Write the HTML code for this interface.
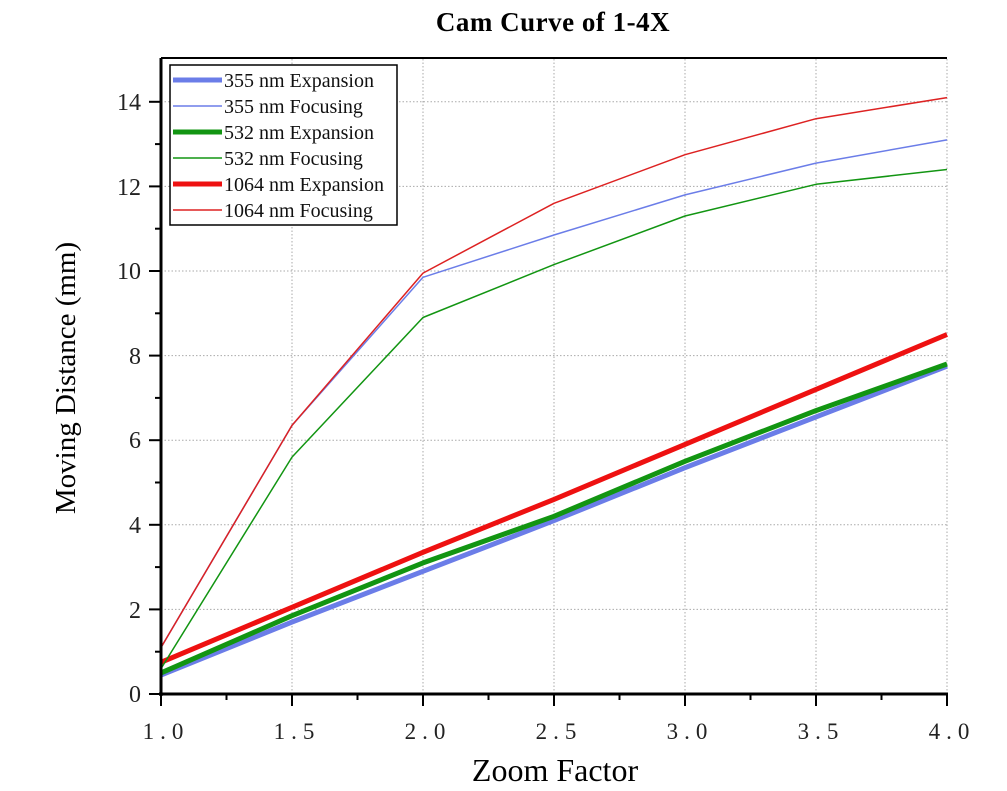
<!DOCTYPE html>
<html><head><style>body{margin:0;background:#fff}</style></head><body>
<svg width="1007" height="786" xmlns="http://www.w3.org/2000/svg" font-family="Liberation Serif, serif">
<rect width="1007" height="786" fill="#fff"/>
<text x="553" y="31" font-size="27" font-weight="bold" text-anchor="middle" letter-spacing="0.5">Cam Curve of  1-4X</text>
<g stroke="#aaa" stroke-dasharray="1.5,2" stroke-width="1">
<line x1="292" y1="59" x2="292" y2="694"/><line x1="423" y1="59" x2="423" y2="694"/><line x1="554" y1="59" x2="554" y2="694"/><line x1="685" y1="59" x2="685" y2="694"/><line x1="816" y1="59" x2="816" y2="694"/><line x1="947" y1="59" x2="947" y2="694"/>
<line x1="161" y1="609.4" x2="947" y2="609.4"/><line x1="161" y1="524.8" x2="947" y2="524.8"/><line x1="161" y1="440.2" x2="947" y2="440.2"/><line x1="161" y1="355.6" x2="947" y2="355.6"/><line x1="161" y1="271" x2="947" y2="271"/><line x1="161" y1="186.4" x2="947" y2="186.4"/><line x1="161" y1="101.8" x2="947" y2="101.8"/>
</g>
<g fill="none" stroke-linejoin="round">
<polyline stroke="#6b7de8" stroke-width="5" points="161,675 292,622.1 423,571.3 554,520.6 685,467.7 816,416.9 947,366.2"/>
<polyline stroke="#129512" stroke-width="5" points="161,672.9 292,615.7 423,562.9 554,516.3 685,461.3 816,410.6 947,364"/>
<polyline stroke="#ee1111" stroke-width="5" points="161,662.3 292,607.3 423,552.3 554,499.4 685,444.4 816,389.4 947,334.5"/>
<polyline stroke="#6b7de8" stroke-width="1.5" points="161,647.5 292,425.4 423,277.3 554,235 685,194.9 816,163.1 947,139.9"/>
<polyline stroke="#129512" stroke-width="1.5" points="161,668.6 292,457.1 423,317.5 554,264.6 685,216 816,184.3 947,169.5"/>
<polyline stroke="#dd2222" stroke-width="1.5" points="161,647.5 292,425.4 423,273.1 554,203.3 685,154.7 816,118.7 947,97.6"/>
</g>
<g stroke="#000" stroke-width="3">
<line x1="161" y1="58" x2="161" y2="696"/><line x1="159" y1="694" x2="948" y2="694"/>
<line x1="161" y1="58" x2="947" y2="58" stroke-width="2"/>
</g>
<g stroke="#000" stroke-width="2">
<line x1="149" y1="694" x2="161" y2="694"/><line x1="149" y1="609.4" x2="161" y2="609.4"/><line x1="149" y1="524.8" x2="161" y2="524.8"/><line x1="149" y1="440.2" x2="161" y2="440.2"/><line x1="149" y1="355.6" x2="161" y2="355.6"/><line x1="149" y1="271" x2="161" y2="271"/><line x1="149" y1="186.4" x2="161" y2="186.4"/><line x1="149" y1="101.8" x2="161" y2="101.8"/>
<line x1="155" y1="651.7" x2="161" y2="651.7"/><line x1="155" y1="567.1" x2="161" y2="567.1"/><line x1="155" y1="482.5" x2="161" y2="482.5"/><line x1="155" y1="397.9" x2="161" y2="397.9"/><line x1="155" y1="313.3" x2="161" y2="313.3"/><line x1="155" y1="228.7" x2="161" y2="228.7"/><line x1="155" y1="144.1" x2="161" y2="144.1"/>
<line x1="161" y1="694" x2="161" y2="706"/><line x1="292" y1="694" x2="292" y2="706"/><line x1="423" y1="694" x2="423" y2="706"/><line x1="554" y1="694" x2="554" y2="706"/><line x1="685" y1="694" x2="685" y2="706"/><line x1="816" y1="694" x2="816" y2="706"/><line x1="947" y1="694" x2="947" y2="706"/>
<line x1="226.5" y1="694" x2="226.5" y2="700"/><line x1="357.5" y1="694" x2="357.5" y2="700"/><line x1="488.5" y1="694" x2="488.5" y2="700"/><line x1="619.5" y1="694" x2="619.5" y2="700"/><line x1="750.5" y1="694" x2="750.5" y2="700"/><line x1="881.5" y1="694" x2="881.5" y2="700"/>
</g>
<g font-size="24" text-anchor="end" fill="#222">
<text x="141" y="702">0</text><text x="141" y="618">2</text><text x="141" y="533">4</text><text x="141" y="448">6</text><text x="141" y="364">8</text><text x="141" y="279">10</text><text x="141" y="195">12</text><text x="141" y="110">14</text>
</g>
<g font-size="23" text-anchor="middle" fill="#222" letter-spacing="6">
<text x="166" y="739">1.0</text><text x="297" y="739">1.5</text><text x="428" y="739">2.0</text><text x="559" y="739">2.5</text><text x="690" y="739">3.0</text><text x="821" y="739">3.5</text><text x="952" y="739">4.0</text>
</g>
<text x="555" y="781" font-size="32" text-anchor="middle">Zoom Factor</text>
<text transform="translate(75,378) rotate(-90)" font-size="29" text-anchor="middle">Moving Distance (mm)</text>
<rect x="170" y="65" width="227" height="160" fill="#fff" stroke="#000" stroke-width="1.5"/>
<g stroke-width="5"><line x1="173" y1="80" x2="222" y2="80" stroke="#6b7de8"/><line x1="173" y1="132" x2="222" y2="132" stroke="#129512"/><line x1="173" y1="184" x2="222" y2="184" stroke="#ee1111"/></g>
<g stroke-width="1.5"><line x1="173" y1="106" x2="222" y2="106" stroke="#6b7de8"/><line x1="173" y1="158" x2="222" y2="158" stroke="#129512"/><line x1="173" y1="210" x2="222" y2="210" stroke="#dd2222"/></g>
<g font-size="20" fill="#111">
<text x="224" y="87">355 nm Expansion</text><text x="224" y="113">355 nm Focusing</text><text x="224" y="139">532 nm Expansion</text><text x="224" y="165">532 nm Focusing</text><text x="224" y="191">1064 nm Expansion</text><text x="224" y="217">1064 nm Focusing</text>
</g>
</svg>
</body></html>
